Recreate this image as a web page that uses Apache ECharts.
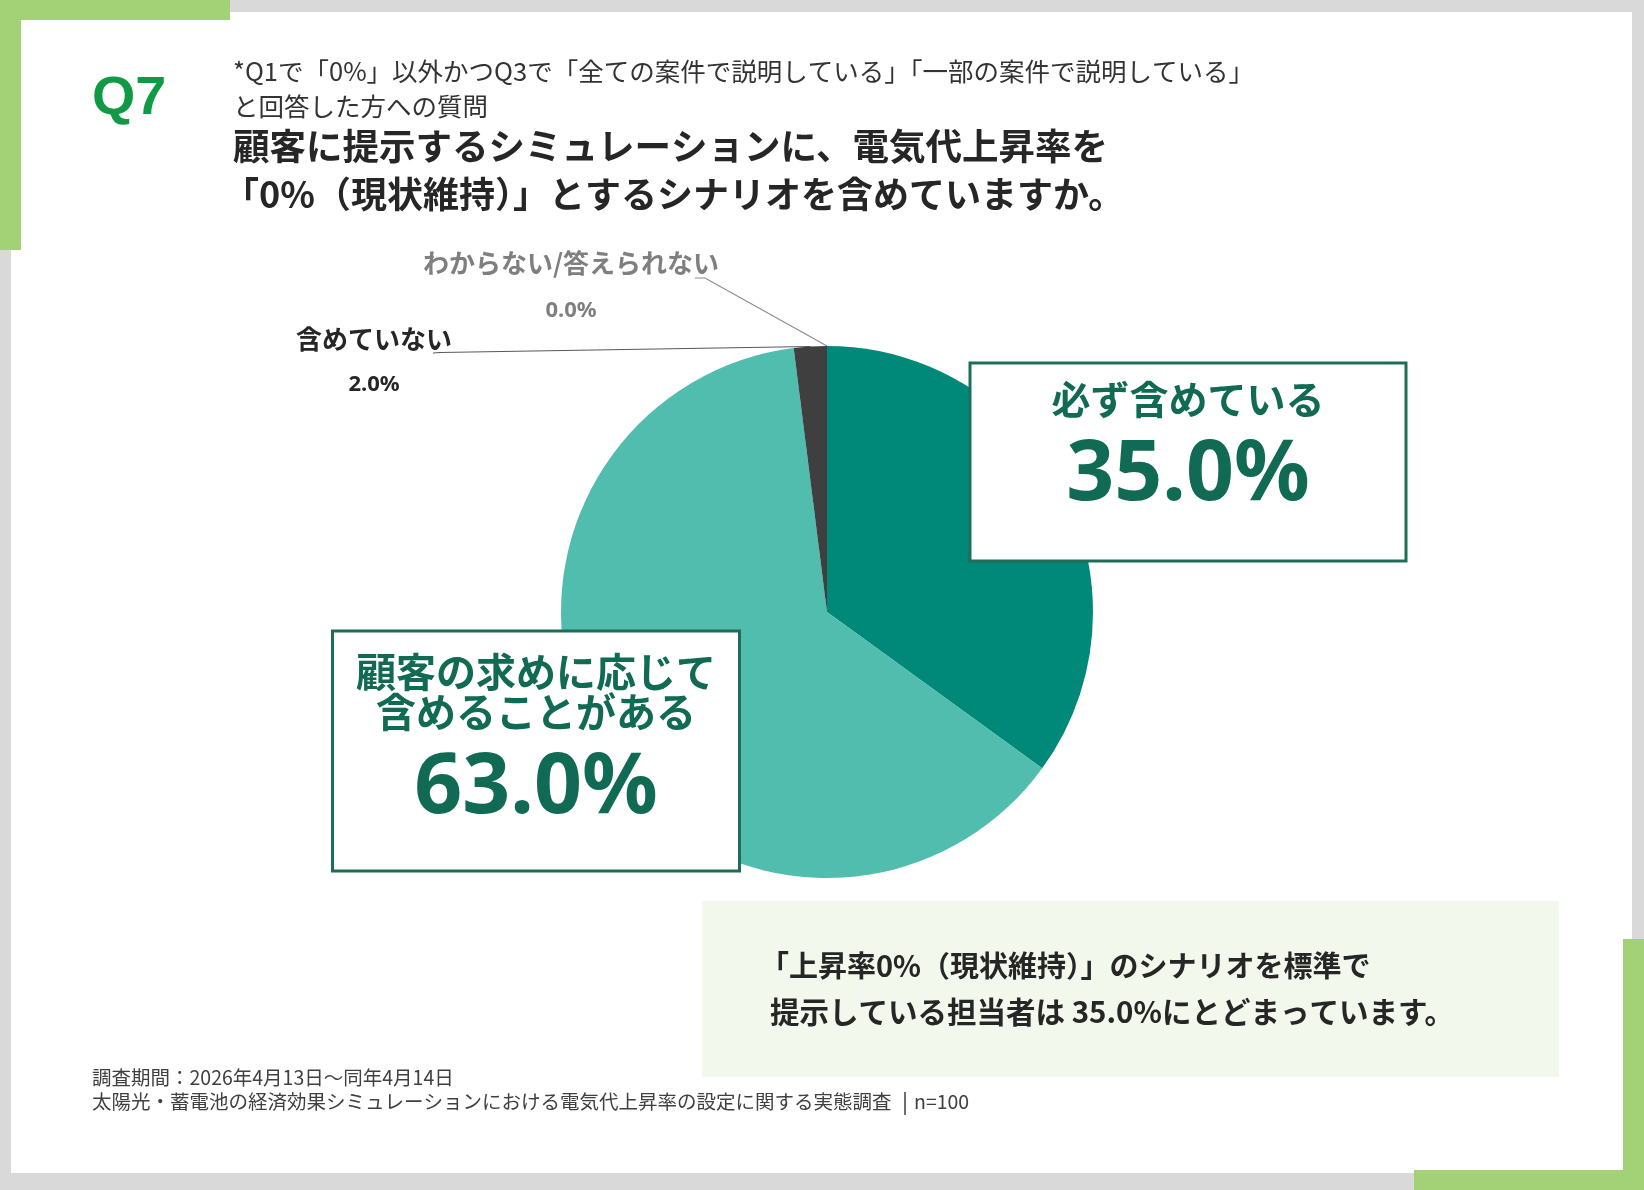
<!DOCTYPE html>
<html>
<head>
<meta charset="utf-8">
<title>Q7</title>
<script src="https://cdn.jsdelivr.net/npm/echarts@6/dist/echarts.min.js"></script>
<style>
    html, body { margin: 0; padding: 0; background: #d9d9d9; }
    #chart { width: 1644px; height: 1190px; }
</style>
</head>
<body>
<div id="chart"></div>
<script>
// 回答データ（n=100）
var categories = ['必ず含めている', '顧客の求めに応じて含めることがある', '含めていない', 'わからない/答えられない'];
var labelNames = ['必ず含めている', '顧客の求めに応じて\n含めることがある', '含めていない', 'わからない/答えられない'];
var values = [35.0, 63.0, 2.0, 0.0];
var sliceColors = ['#008978', '#50bdaf', '#3f3f3f', '#a6a6a6'];

var JP = '"Noto Sans CJK JP", "Noto Sans", sans-serif';
var NUM = '"Noto Sans", "Noto Sans CJK JP", sans-serif';
var boxGreen = '#1e6e57';
var boxText = '#116b54';

// ラベルの中心位置と引き出し線の終点（ラベル中心からの相対位置）
var labelPos = [[1188, 462], [536, 751], [374, 362], [571, 287]];
var leaderEnds = [null, null, [[66, -9.5], [59, -9]], [[134, -9], [124, -9]]];

function boxLabel(width, padding, nameSize, nameLine, valSize, valLine) {
    return {
        show: true,
        position: 'inside',
        formatter: function (p) {
            return '{name|' + labelNames[p.dataIndex] + '}\n{val|' + p.value.toFixed(1) + '%}';
        },
        backgroundColor: '#ffffff',
        borderColor: boxGreen,
        borderWidth: 3,
        width: width,
        padding: padding,
        align: 'center',
        rich: {
            name: { fontFamily: JP, fontWeight: 'bold', fontSize: nameSize, lineHeight: nameLine, color: boxText, align: 'center' },
            val: { fontFamily: NUM, fontWeight: 'bold', fontSize: valSize, lineHeight: valLine, color: boxText, align: 'center' }
        }
    };
}

function sideLabel(color, nameLine, valLine, lineColor) {
    return {
        label: {
            show: true,
            position: 'outside',
            align: 'center',
            formatter: function (p) {
                return '{name|' + labelNames[p.dataIndex] + '}\n{val|' + p.value.toFixed(1) + '%}';
            },
            rich: {
                name: { fontFamily: JP, fontWeight: 'bold', fontSize: 26, lineHeight: nameLine, color: color, align: 'center' },
                val: { fontFamily: NUM, fontWeight: 'bold', fontSize: 22, lineHeight: valLine, color: color, align: 'center' }
            }
        },
        labelLine: { show: true, length: 10, length2: 10, lineStyle: { color: lineColor, width: 1.2 } }
    };
}

var labelStyles = [
    { label: boxLabel(433, [10, 0, 31, 0], 39, 50, 84, 104), labelLine: { show: false } },
    { label: boxLabel(404, [19, 0, 22, 0], 40, 40, 84, 116), labelLine: { show: false } },
    sideLabel('#262626', 46, 46, '#595959'),
    sideLabel('#7f7f7f', 48, 48, '#8c8c8c')
];

var pieData = categories.map(function (name, i) {
    return {
        name: name,
        value: values[i],
        itemStyle: { color: sliceColors[i] },
        label: labelStyles[i].label,
        labelLine: labelStyles[i].labelLine
    };
});

var chart = echarts.init(document.getElementById('chart'));

var option = {
    backgroundColor: '#d9d9d9',
    animation: false,
    graphic: [
        { type: 'rect', z: 0, shape: { x: 11, y: 12, width: 1621, height: 1161 }, style: { fill: '#ffffff' } },
        { type: 'rect', z: 1, shape: { x: 0, y: 0, width: 230, height: 20 }, style: { fill: '#a3d175' } },
        { type: 'rect', z: 1, shape: { x: 0, y: 0, width: 21, height: 250 }, style: { fill: '#a3d175' } },
        { type: 'rect', z: 1, shape: { x: 1623, y: 939, width: 21, height: 251 }, style: { fill: '#a3d175' } },
        { type: 'rect', z: 1, shape: { x: 1414, y: 1170, width: 230, height: 20 }, style: { fill: '#a3d175' } },
        {
            type: 'text', z: 2, x: 92, y: 99, scaleX: 1.05,
            style: { text: 'Q7', font: 'bold 53px "Liberation Sans", Arial, sans-serif', fill: '#109a45', textVerticalAlign: 'middle' }
        },
        {
            type: 'text', z: 2, x: 233, y: 71,
            style: { text: '*Q1で「0%」以外かつQ3で「全ての案件で説明している」「一部の案件で説明している」', font: '25.5px ' + JP, fill: '#333333', textVerticalAlign: 'middle' }
        },
        {
            type: 'text', z: 2, x: 233, y: 106,
            style: { text: 'と回答した方への質問', font: '25.5px ' + JP, fill: '#333333', textVerticalAlign: 'middle' }
        },
        {
            type: 'text', z: 2, x: 233, y: 146,
            style: { text: '顧客に提示するシミュレーションに、電気代上昇率を', font: 'bold 36.5px ' + JP, fill: '#262626', textVerticalAlign: 'middle' }
        },
        {
            type: 'text', z: 2, x: 223, y: 194,
            style: { text: '「0%（現状維持）」とするシナリオを含めていますか。', font: 'bold 36px ' + JP, fill: '#262626', textVerticalAlign: 'middle' }
        },
        { type: 'rect', z: 1, shape: { x: 702, y: 901, width: 857, height: 176 }, style: { fill: '#f3f8ed' } },
        {
            type: 'text', z: 2, x: 760, y: 966,
            style: { text: '「上昇率0%（現状維持）」のシナリオを標準で', font: 'bold 29px ' + JP, fill: '#262626', textVerticalAlign: 'middle' }
        },
        {
            type: 'text', z: 2, x: 770, y: 1012,
            style: { text: '提示している担当者は 35.0%にとどまっています。', font: 'bold 29.5px ' + JP, fill: '#262626', textVerticalAlign: 'middle' }
        },
        {
            type: 'text', z: 2, x: 92, y: 1078,
            style: { text: '調査期間：2026年4月13日～同年4月14日', font: '19.5px ' + JP, fill: '#404040', textVerticalAlign: 'middle' }
        },
        {
            type: 'text', z: 2, x: 92, y: 1102,
            style: { text: '太陽光・蓄電池の経済効果シミュレーションにおける電気代上昇率の設定に関する実態調査', font: '19.5px ' + JP, fill: '#404040', textVerticalAlign: 'middle' }
        },
        { type: 'line', z: 2, shape: { x1: 905, y1: 1092, x2: 905, y2: 1115 }, style: { stroke: '#404040', lineWidth: 1.5 } },
        {
            type: 'text', z: 2, x: 914, y: 1102,
            style: { text: 'n=100', font: '19.5px ' + JP, fill: '#404040', textVerticalAlign: 'middle' }
        }
    ],
    series: [
        {
            type: 'pie',
            center: [827, 612],
            radius: 266,
            startAngle: 90,
            clockwise: true,
            avoidLabelOverlap: false,
            emphasis: { disabled: true },
            itemStyle: { borderWidth: 0 },
            data: pieData,
            labelLayout: function (params) {
                var i = params.dataIndex;
                var pos = labelPos[i];
                var out = { x: pos[0], y: pos[1], align: 'center', verticalAlign: 'middle' };
                var ends = leaderEnds[i];
                if (ends && params.labelLinePoints) {
                    out.labelLinePoints = [
                        params.labelLinePoints[0],
                        [pos[0] + ends[0][0], pos[1] + ends[0][1]],
                        [pos[0] + ends[1][0], pos[1] + ends[1][1]]
                    ];
                }
                return out;
            }
        }
    ]
};

chart.setOption(option);
window.addEventListener('resize', function () {
    chart.resize();
});
</script>
</body>
</html>
